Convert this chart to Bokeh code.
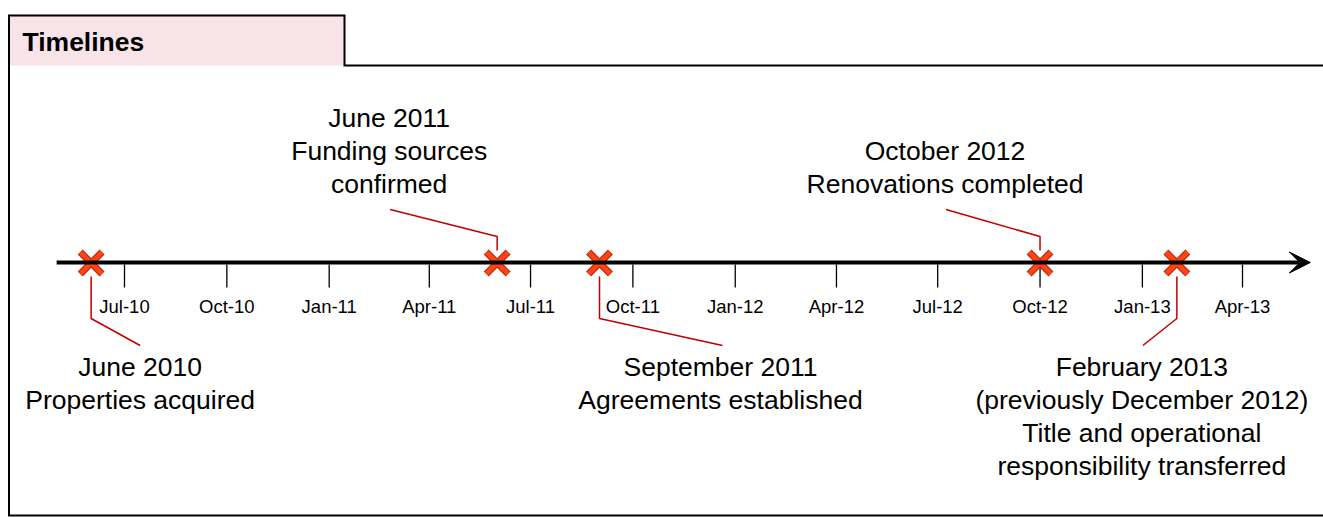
import pandas as pd
from bokeh.plotting import figure
from bokeh.models import Range1d, Arrow, VeeHead
from bokeh.core.properties import value
from bokeh.embed import file_html
from bokeh.resources import INLINE

# ---------------- data ----------------
title_text = "Timelines"
axis_start = "2010-05-01"
axis_end = "2013-06-01"
tick_dates = ["2010-07-01", "2010-10-01", "2011-01-01", "2011-04-01",
              "2011-07-01", "2011-10-01", "2012-01-01", "2012-04-01",
              "2012-07-01", "2012-10-01", "2013-01-01", "2013-04-01"]
tick_labels = ["Jul-10", "Oct-10", "Jan-11", "Apr-11", "Jul-11", "Oct-11",
               "Jan-12", "Apr-12", "Jul-12", "Oct-12", "Jan-13", "Apr-13"]
event_dates = ["2010-06-01", "2011-06-01", "2011-09-01", "2012-10-01", "2013-02-01"]
event_titles = ["June 2010", "June 2011", "September 2011", "October 2012", "February 2013"]
event_descriptions = [
    "Properties acquired",
    "Funding sources\nconfirmed",
    "Agreements established",
    "Renovations completed",
    "(previously December 2012)\nTitle and operational\nresponsibility transferred",
]

# ---------------- layout (pixels) ----------------
W, H = 1323, 517
PAGE_X0, PAGE_Y0 = 0, 0
ANCHOR_PAGE_X = 124          # page x of first tick
PX_PER_DAY = 1.11244
MS_PER_PX = 86400000.0 / PX_PER_DAY
BASELINE_FIX = 0.375         # em correction for text baseline placement

label_layout = [
    dict(side="below", leader_dx=49, text_dx=49),
    dict(side="above", leader_dx=-107, text_dx=-108),
    dict(side="below", leader_dx=123, text_dx=121),
    dict(side="above", leader_dx=-94, text_dx=-95),
    dict(side="below", leader_dx=-34, text_dx=-35),
]

FONT = value("Liberation Sans")
AXIS_Y = 262
LABEL_PX = 26.5
TICK_PX = 18.5
TITLE_PX = 26.5


def ms(d):
    return pd.Timestamp(d).value / 1e6


anchor = ms(tick_dates[0])
x_start = anchor - (ANCHOR_PAGE_X - PAGE_X0) * MS_PER_PX
x_end = x_start + W * MS_PER_PX


def X(page_x):
    return x_start + (page_x - PAGE_X0) * MS_PER_PX


def base(y, px):
    return y - BASELINE_FIX * px


p = figure(width=W, height=H, x_range=Range1d(x_start, x_end),
           y_range=Range1d(PAGE_Y0 + H, PAGE_Y0),
           output_backend="svg", toolbar_location=None, min_border=0)
p.axis.visible = False
p.grid.visible = False
p.outline_line_color = None
p.background_fill_color = "white"
p.border_fill_color = "white"

# title box and frame
p.quad(left=[X(9)], right=[X(344)], top=[15], bottom=[65],
       fill_color="#F8E4E8", line_color=None)
p.line(x=[X(1330), X(344), X(344), X(8.5), X(8.5), X(1330)],
       y=[65, 65, 15, 15, 515, 515], line_color="black", line_width=2,
       line_join="miter")
p.text(x=[X(22)], y=[base(51, TITLE_PX)], text=[title_text], text_font=FONT,
       text_font_style="bold", text_font_size=f"{TITLE_PX}px", text_align="left",
       text_baseline="alphabetic", text_color="black")

# timeline axis with arrow
p.add_layout(Arrow(x_start=ms(axis_start), y_start=AXIS_Y, x_end=ms(axis_end), y_end=AXIS_Y,
                   line_color="black", line_width=4,
                   end=VeeHead(size=21, fill_color="black", line_color="black", line_width=1)))

tick_x = [ms(d) for d in tick_dates]
p.segment(x0=tick_x, y0=[AXIS_Y + 2] * len(tick_x), x1=tick_x, y1=[287] * len(tick_x),
          line_color="black", line_width=1.3)
p.text(x=tick_x, y=[base(313, TICK_PX)] * len(tick_x), text=tick_labels, text_font=FONT,
       text_font_size=f"{TICK_PX}px", text_align="center", text_baseline="alphabetic",
       text_color="black")

# leaders and labels
lead_xs, lead_ys = [], []
tx, ty, tt, toff = [], [], [], []
for d, title, desc, lay in zip(event_dates, event_titles, event_descriptions, label_layout):
    xm = ms(d)
    xe = xm + lay["leader_dx"] * MS_PER_PX
    lines = [title] + desc.split("\n")
    if lay["side"] == "below":
        lead_ys.append([276, 318, 345])
        ys = [376 + 33 * i for i in range(len(lines))]
    else:
        lead_ys.append([250, 236, 209])
        n = len(lines)
        ys = [193 - 33 * (n - 1 - i) for i in range(n)]
    lead_xs.append([xm, xm, xe])
    for line, yy in zip(lines, ys):
        tx.append(xm)
        ty.append(base(yy, LABEL_PX))
        tt.append(line)
        toff.append(lay["text_dx"])

p.multi_line(xs=lead_xs, ys=lead_ys, line_color="#C00000", line_width=1.5)
p.text(x=tx, y=ty, text=tt, x_offset=toff, text_font=FONT, text_font_size=f"{LABEL_PX}px",
       text_align="center", text_baseline="alphabetic", text_color="black")

# event markers
ev_x = [ms(d) for d in event_dates]
ev_y = [AXIS_Y + 0.5] * len(ev_x)
p.scatter(x=ev_x, y=ev_y, marker="x", size=31, line_color="#C42808",
          line_width=7, line_cap="butt")
p.scatter(x=ev_x, y=ev_y, marker="x", size=30, line_color="#FF4516",
          line_width=4.5, line_cap="butt")

open("out.html", "w").write(file_html(p, INLINE))
